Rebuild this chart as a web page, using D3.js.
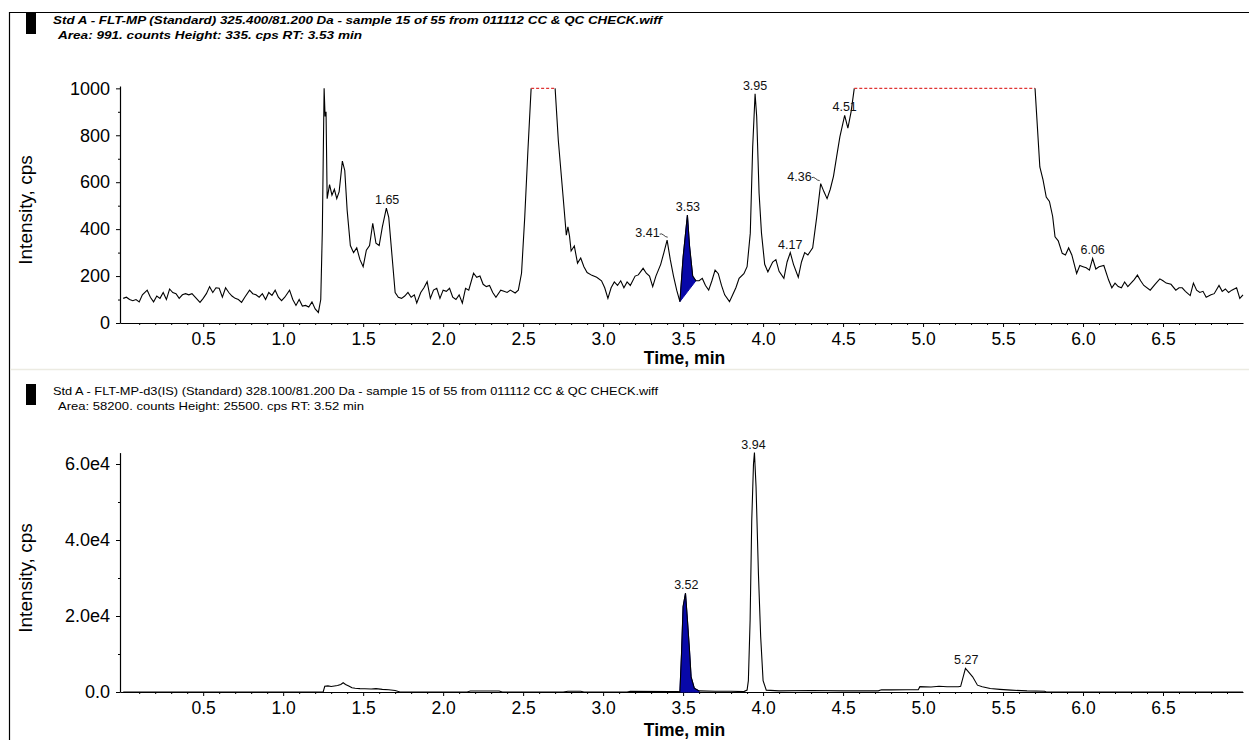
<!DOCTYPE html>
<html><head><meta charset="utf-8">
<script src="https://cdn.jsdelivr.net/npm/d3@7"></script>
<style>
body{margin:0;background:#fff;}
svg{display:block;font-family:"Liberation Sans",Arial,sans-serif;}
</style></head>
<body><svg id="c" width="1249" height="740"></svg>
<script>
// ---------- DATA ----------
const topTitle1 = "Std A - FLT-MP (Standard) 325.400/81.200 Da - sample 15 of 55 from 011112 CC & QC CHECK.wiff";
const topTitle2 = "Area: 991. counts  Height: 335. cps  RT: 3.53 min";
const botTitle1 = "Std A - FLT-MP-d3(IS) (Standard) 328.100/81.200 Da - sample 15 of 55 from 011112 CC & QC CHECK.wiff";
const botTitle2 = "Area: 58200. counts  Height: 25500. cps  RT: 3.52 min";
const xLabel = "Time, min";
const yLabel = "Intensity, cps";
const xTicks = [0.5,1.0,1.5,2.0,2.5,3.0,3.5,4.0,4.5,5.0,5.5,6.0,6.5];
const yTicksTop = [0,200,400,600,800,1000];
const yTicksBot = [0,20000,40000,60000];
const satLevel = 1000;

// top trace: [time, cps]
const topTrace = [[0.00,105],[0.02,110],[0.04,100],[0.06,95],[0.08,100],[0.10,90],[0.12,120],[0.15,140],[0.17,110],[0.19,90],[0.21,115],[0.23,105],[0.25,130],[0.27,100],[0.29,145],[0.31,130],[0.33,125],[0.35,105],[0.37,120],[0.39,125],[0.41,120],[0.43,125],[0.45,110],[0.48,88],[0.50,105],[0.52,125],[0.54,155],[0.56,130],[0.58,150],[0.60,148],[0.62,110],[0.64,150],[0.66,130],[0.68,115],[0.70,105],[0.72,100],[0.74,88],[0.76,110],[0.79,140],[0.81,125],[0.83,120],[0.85,110],[0.87,125],[0.89,100],[0.91,130],[0.93,118],[0.95,140],[0.97,110],[0.99,95],[1.01,110],[1.04,140],[1.06,100],[1.08,75],[1.10,100],[1.12,72],[1.14,75],[1.16,68],[1.18,90],[1.20,60],[1.22,45],[1.235,100],[1.245,400],[1.25,680],[1.256,1000],[1.262,880],[1.268,900],[1.275,530],[1.29,590],[1.305,545],[1.32,570],[1.335,530],[1.35,560],[1.37,690],[1.385,650],[1.40,480],[1.42,330],[1.44,300],[1.46,320],[1.48,270],[1.50,240],[1.52,310],[1.54,330],[1.56,425],[1.58,340],[1.60,330],[1.62,410],[1.645,490],[1.66,450],[1.68,290],[1.70,130],[1.72,110],[1.74,105],[1.76,115],[1.78,130],[1.80,110],[1.82,120],[1.835,85],[1.86,130],[1.88,150],[1.90,176],[1.92,105],[1.94,140],[1.96,148],[1.98,105],[2.00,140],[2.02,135],[2.04,148],[2.06,110],[2.08,100],[2.10,120],[2.12,85],[2.14,148],[2.16,140],[2.19,212],[2.21,195],[2.23,200],[2.25,165],[2.27,155],[2.29,160],[2.31,130],[2.33,110],[2.36,140],[2.38,135],[2.40,130],[2.42,140],[2.45,128],[2.47,140],[2.49,212],[2.51,450],[2.53,736],[2.55,1000],[2.70,1000],[2.72,778],[2.75,537],[2.77,374],[2.78,410],[2.79,370],[2.80,307],[2.82,328],[2.84,255],[2.86,277],[2.88,240],[2.90,215],[2.93,203],[2.96,195],[2.99,180],[3.01,150],[3.03,105],[3.05,150],[3.07,175],[3.09,160],[3.11,180],[3.13,150],[3.15,175],[3.17,160],[3.20,200],[3.22,205],[3.25,233],[3.27,212],[3.29,200],[3.31,155],[3.33,200],[3.36,250],[3.38,300],[3.40,353],[3.42,270],[3.44,200],[3.46,140],[3.48,91],[3.50,280],[3.527,460],[3.54,330],[3.56,200],[3.58,180],[3.60,180],[3.62,190],[3.64,160],[3.66,140],[3.68,180],[3.70,225],[3.72,210],[3.74,160],[3.76,120],[3.79,91],[3.81,120],[3.83,150],[3.85,190],[3.88,210],[3.90,240],[3.92,383],[3.935,750],[3.95,977],[3.96,880],[3.975,553],[3.99,383],[4.01,250],[4.03,218],[4.06,260],[4.08,270],[4.10,220],[4.13,190],[4.15,260],[4.17,300],[4.19,250],[4.22,195],[4.24,260],[4.26,300],[4.28,290],[4.31,320],[4.335,450],[4.36,594],[4.38,560],[4.40,530],[4.42,570],[4.44,625],[4.46,710],[4.48,793],[4.51,885],[4.53,830],[4.55,900],[4.57,1000],[5.70,1000],[5.73,665],[5.75,610],[5.77,537],[5.79,518],[5.81,455],[5.825,367],[5.845,350],[5.87,297],[5.89,290],[5.91,320],[5.93,290],[5.96,211],[5.98,245],[6.00,240],[6.02,235],[6.04,225],[6.06,275],[6.08,230],[6.10,240],[6.13,245],[6.16,183],[6.18,150],[6.20,170],[6.22,155],[6.24,150],[6.26,175],[6.28,155],[6.30,170],[6.32,185],[6.34,204],[6.36,180],[6.38,160],[6.42,140],[6.45,165],[6.48,188],[6.50,180],[6.52,170],[6.55,165],[6.58,140],[6.60,150],[6.62,150],[6.64,135],[6.67,117],[6.69,170],[6.71,140],[6.73,130],[6.75,135],[6.77,110],[6.80,120],[6.82,125],[6.85,160],[6.87,135],[6.89,145],[6.91,130],[6.93,140],[6.96,150],[6.98,105],[7.00,120]];
const topFillRange = [3.48, 3.58];
const topPeaks = [
  {t:1.65, v:490, label:"1.65", side:"c"},
  {t:3.41, v:353, label:"3.41", side:"l"},
  {t:3.53, v:460, label:"3.53", side:"c"},
  {t:3.95, v:977, label:"3.95", side:"c"},
  {t:4.17, v:300, label:"4.17", side:"c"},
  {t:4.36, v:594, label:"4.36", side:"l"},
  {t:4.51, v:885, label:"4.51", side:"c"},
  {t:6.06, v:275, label:"6.06", side:"c"}
];

// bottom trace: [time, cps]
const botTrace = [[0.00,0],[1.23,0],[1.25,0],[1.26,1500],[1.28,1600],[1.30,1450],[1.32,1600],[1.34,1700],[1.36,2000],[1.375,2450],[1.39,2000],[1.41,1600],[1.43,1100],[1.45,1000],[1.48,900],[1.51,850],[1.55,800],[1.58,900],[1.62,700],[1.66,600],[1.70,400],[1.73,0],[2.15,0],[2.17,250],[2.35,250],[2.37,0],[2.75,0],[2.78,200],[2.86,200],[2.88,0],[3.15,0],[3.17,200],[3.42,150],[3.47,100],[3.48,0],[3.49,10000],[3.50,22500],[3.515,26000],[3.527,19000],[3.54,11000],[3.55,4000],[3.57,1000],[3.60,300],[3.70,200],[3.80,200],[3.88,100],[3.90,500],[3.908,3000],[3.919,19000],[3.929,45000],[3.94,60000],[3.946,63000],[3.956,54000],[3.971,31000],[3.985,14500],[4.00,3000],[4.02,500],[4.10,300],[4.30,400],[4.50,300],[4.72,300],[4.74,600],[4.80,550],[4.90,600],[4.97,600],[4.98,1400],[5.05,1300],[5.10,1500],[5.15,1400],[5.22,1400],[5.235,1500],[5.265,6200],[5.28,5500],[5.31,4000],[5.34,1800],[5.37,1400],[5.42,900],[5.48,700],[5.55,500],[5.65,300],[5.76,200],[5.77,0],[7.00,0]];
const botFillRange = [3.48, 3.60];
const botPeaks = [
  {t:3.52, v:26000, label:"3.52", side:"c"},
  {t:3.94, v:63000, label:"3.94", side:"c"},
  {t:5.27, v:6200, label:"5.27", side:"c"}
];

// ---------- DRAW ----------
const svg = d3.select("#c");
const FILL = "#0808a8";

// frame lines
svg.append("line").attr("x1",9.5).attr("x2",9.5).attr("y1",12).attr("y2",740).attr("stroke","#000").attr("stroke-width",1.2);
svg.append("line").attr("x1",9).attr("x2",1249).attr("y1",12.5).attr("y2",12.5).attr("stroke","#000").attr("stroke-width",1);
svg.append("line").attr("x1",10).attr("x2",1249).attr("y1",369.5).attr("y2",369.5).attr("stroke","#ecebe2").attr("stroke-width",1.5);

function header(y0, l1, l2, bold){
  svg.append("rect").attr("x",26).attr("y",y0).attr("width",10).attr("height",21).attr("fill","#000");
  const t1 = svg.append("text").attr("x",53).attr("y",y0+11).text(l1)
    .attr("font-size",11).attr("fill","#000")
    .attr("font-weight",bold?"bold":"normal").attr("font-style",bold?"italic":"normal");
  const t2 = svg.append("text").attr("x",58).attr("y",y0+26).text(l2)
    .attr("font-size",11).attr("fill","#000")
    .attr("font-weight",bold?"bold":"normal").attr("font-style",bold?"italic":"normal");
  return [t1,t2];
}
const th = header(13, topTitle1, topTitle2, true);
const bh = header(384, botTitle1, botTitle2, false);
function fit(t, x0, x1){
  t.attr("textLength", x1-x0).attr("lengthAdjust","spacingAndGlyphs");
}
fit(th[0],53,662); fit(th[1],58,362);
fit(bh[0],53,658); fit(bh[1],58,364);

function panel(cfg){
  const x = d3.scaleLinear().domain([-0.02,7.0]).range([120,1243]);
  const y = d3.scaleLinear().domain(cfg.yDomain).range(cfg.yRange);
  const g = svg.append("g");
  const yb = cfg.yRange[0];

  // x axis: minor ticks
  const minor = d3.range(1,70).map(i=>i/10).filter(v=>Math.abs(v*2-Math.round(v*2))>1e-6);
  g.append("g").attr("transform",`translate(0,${yb})`)
    .call(d3.axisBottom(x).tickValues(minor).tickSize(2).tickFormat(""))
    .call(s=>s.select(".domain").remove());
  const xa = g.append("g").attr("transform",`translate(0,${yb})`)
    .call(d3.axisBottom(x).tickValues(xTicks).tickSize(4).tickSizeOuter(0).tickPadding(6).tickFormat(d3.format(".1f")));
  xa.selectAll("text").attr("font-size",17.5).attr("fill","#000").attr("font-family","'Liberation Sans',Arial,sans-serif");
  xa.select(".domain").attr("stroke-width",1.2);

  // y axis
  g.append("g").attr("transform","translate(120,0)")
    .call(d3.axisLeft(y).tickValues(cfg.yMinor).tickSize(2).tickFormat(""))
    .call(s=>s.select(".domain").remove());
  const ya = g.append("g").attr("transform","translate(120,0)")
    .call(d3.axisLeft(y).tickValues(cfg.yTicks).tickSize(4).tickSizeOuter(0).tickPadding(6).tickFormat(cfg.yFmt));
  ya.selectAll("text").attr("font-size",18).attr("fill","#000").attr("font-family","'Liberation Sans',Arial,sans-serif");
  ya.select(".domain").attr("stroke-width",1.2);

  // axis titles
  g.append("text").attr("x",(x.range()[0]+x.range()[1])/2+3).attr("y",cfg.xTitleY).attr("text-anchor","middle")
    .attr("font-size",17.5).attr("font-weight","bold").text(xLabel);
  g.append("text").attr("transform",`translate(${32},${cfg.yTitleY}) rotate(-90)`).attr("text-anchor","middle")
    .attr("font-size",19).text(yLabel);

  // filled peak
  const fr = cfg.fillRange;
  const fpts = cfg.data.filter(d=>d[0]>=fr[0]-1e-9 && d[0]<=fr[1]+1e-9);
  const b0 = fpts[0], b1 = fpts[fpts.length-1];
  const base = t => cfg.fillBaseline ? b0[1] + (b1[1]-b0[1])*(t-b0[0])/(b1[0]-b0[0]) : 0;
  g.append("path").datum(fpts)
    .attr("d", d3.area().x(d=>x(d[0])).y0(d=>y(base(d[0]))).y1(d=>y(d[1])))
    .attr("fill",FILL).attr("stroke",FILL).attr("stroke-width",1);

  // trace, split into normal and saturated segments
  const segs = [];
  let cur = null;
  for(let i=0;i<cfg.data.length-1;i++){
    const a = cfg.data[i], b = cfg.data[i+1];
    const sat = cfg.sat!=null && a[1]>=cfg.sat && b[1]>=cfg.sat;
    if(!cur || cur.sat!==sat){ cur = {sat, pts:[a]}; segs.push(cur); }
    cur.pts.push(b);
  }
  const line = d3.line().x(d=>x(d[0])).y(d=>y(d[1]));
  segs.forEach(s=>{
    g.append("path").datum(s.pts).attr("d",line).attr("fill","none")
      .attr("stroke", s.sat ? "#e03434" : "#000")
      .attr("stroke-width", 1.1)
      .attr("stroke-dasharray", s.sat ? "3,2" : null);
  });

  // peak labels
  cfg.peaks.forEach(p=>{
    const px = x(p.t), py = y(p.v);
    if(p.side==="l"){
      g.append("text").attr("x",px-9).attr("y",py-3).attr("text-anchor","end")
        .attr("font-size",12.5).attr("fill","#111").text(p.label);
      g.append("path").attr("d",`M${px-9},${py-6} q2,-1 4,1 t4,2`).attr("fill","none").attr("stroke","#111").attr("stroke-width",0.8);
    } else {
      g.append("text").attr("x",px).attr("y",py-4).attr("text-anchor","middle")
        .attr("font-size",12.5).attr("fill","#111").text(p.label);
    }
  });
}

panel({
  data: topTrace, yDomain:[0,1010], yRange:[323,86],
  yTicks: yTicksTop, yMinor:[100,300,500,700,900], yFmt: d3.format("d"),
  xTitleY: 364, yTitleY: 210, fillRange: topFillRange, fillBaseline: true,
  sat: satLevel, peaks: topPeaks
});
panel({
  data: botTrace, yDomain:[0,63000], yRange:[692,452.6],
  yTicks: yTicksBot, yMinor:[10000,30000,50000], yFmt: v => v===0 ? "0.0" : (v/1e4).toFixed(1)+"e4",
  xTitleY: 736, yTitleY: 578, fillRange: botFillRange, fillBaseline: false,
  sat: null, peaks: botPeaks
});
</script></body></html>
